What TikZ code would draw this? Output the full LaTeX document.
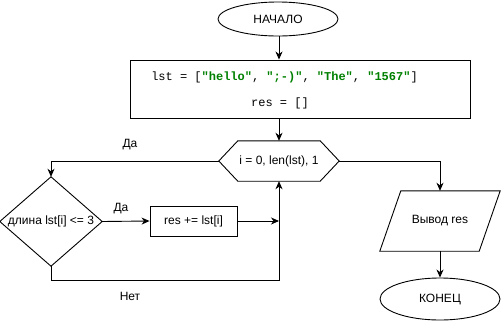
\documentclass[tikz,border=0pt]{standalone}
\usepackage{fontspec}
\setmainfont{Liberation Sans}
\setmonofont{Liberation Mono}
\usetikzlibrary{arrows.meta,shapes.geometric}
\definecolor{strgreen}{HTML}{008000}
\begin{document}
\begin{tikzpicture}[x=1pt,y=-1pt,
  every node/.style={font=\fontsize{12}{14}\selectfont, inner sep=0pt},
  line/.style={draw=black, line width=0.9pt},
  arr/.style={line, -{Stealth[length=8pt,width=7pt,inset=2.5pt]}},
  terminal/.style={ellipse, line, minimum width=120pt, minimum height=40pt},
  box/.style={rectangle, line},
  code/.style={font=\ttfamily\fontsize{12}{14}\selectfont},
  str/.style={text=strgreen, font=\ttfamily\bfseries\fontsize{12}{14}\selectfont},
  lbl/.style={font=\fontsize{12}{14}\selectfont}]
\useasboundingbox (0,0) rectangle (501,322);

% terminals and blocks
\node[terminal, minimum height=34pt] (start) at (278,19) {НАЧАЛО};
\node[box, minimum width=340pt, minimum height=58pt] (init) at (300,89) {};
\node[code] (code1) at (284.5,77)
  {lst = [\textcolor{strgreen}{\bfseries"hello"}, \textcolor{strgreen}{\bfseries";-)"}, \textcolor{strgreen}{\bfseries"The"}, \textcolor{strgreen}{\bfseries"1567"}]};
\node[code] (code2) at (280,103) {res = []};

% loop header (hexagon)
\node[minimum width=120pt, minimum height=40pt] (loop) at (279,161) {i = 0, len(lst), 1};
\draw[line] (loop.west) -- ([xshift=19pt]loop.north west) -- ([xshift=-19pt]loop.north east)
  -- (loop.east) -- ([xshift=-19pt]loop.south east) -- ([xshift=19pt]loop.south west) -- cycle;

% condition (diamond)
\node[minimum width=102pt, minimum height=89pt] (cond) at (51,221.5) {длина lst[i] <= 3};
\draw[line] (cond.west) -- (cond.north) -- (cond.east) -- (cond.south) -- cycle;

% loop body
\node[box, minimum width=87pt, minimum height=30pt] (body) at (193.5,221) {res += lst[i]};

% output (parallelogram)
\node[minimum width=120pt, minimum height=60pt] (out) at (440,221) {Вывод res};
\draw[line] ([xshift=21pt]out.north west) -- (out.north east)
  -- ([xshift=-21pt]out.south east) -- (out.south west) -- cycle;

\node[terminal, minimum height=42pt] (stop) at (440,299) {КОНЕЦ};

% connectors
\draw[arr] (start.south -| loop) -- (loop |- init.north);
\draw[arr] (init.south -| loop) -- (loop.north);
\draw[arr] (loop.west) -| (cond.north);
\draw[arr] (cond.east) -- (body.west);
\draw[arr] (body.east) -- (body.east -| loop.south);
\coordinate (nodown) at ([yshift=-14pt]cond.south);
\draw[arr] (cond.south) -- (nodown) -| (loop.south);
\draw[arr] (loop.east) -| (out.north);
\draw[arr] (out.south) -- (stop.north);

% branch labels
\node[lbl] (yes1) at (130,145) {Да};
\node[lbl] (yes2) at (121,209) {Да};
\node[lbl] (no) at (130,296) {Нет};
\end{tikzpicture}
\end{document}
